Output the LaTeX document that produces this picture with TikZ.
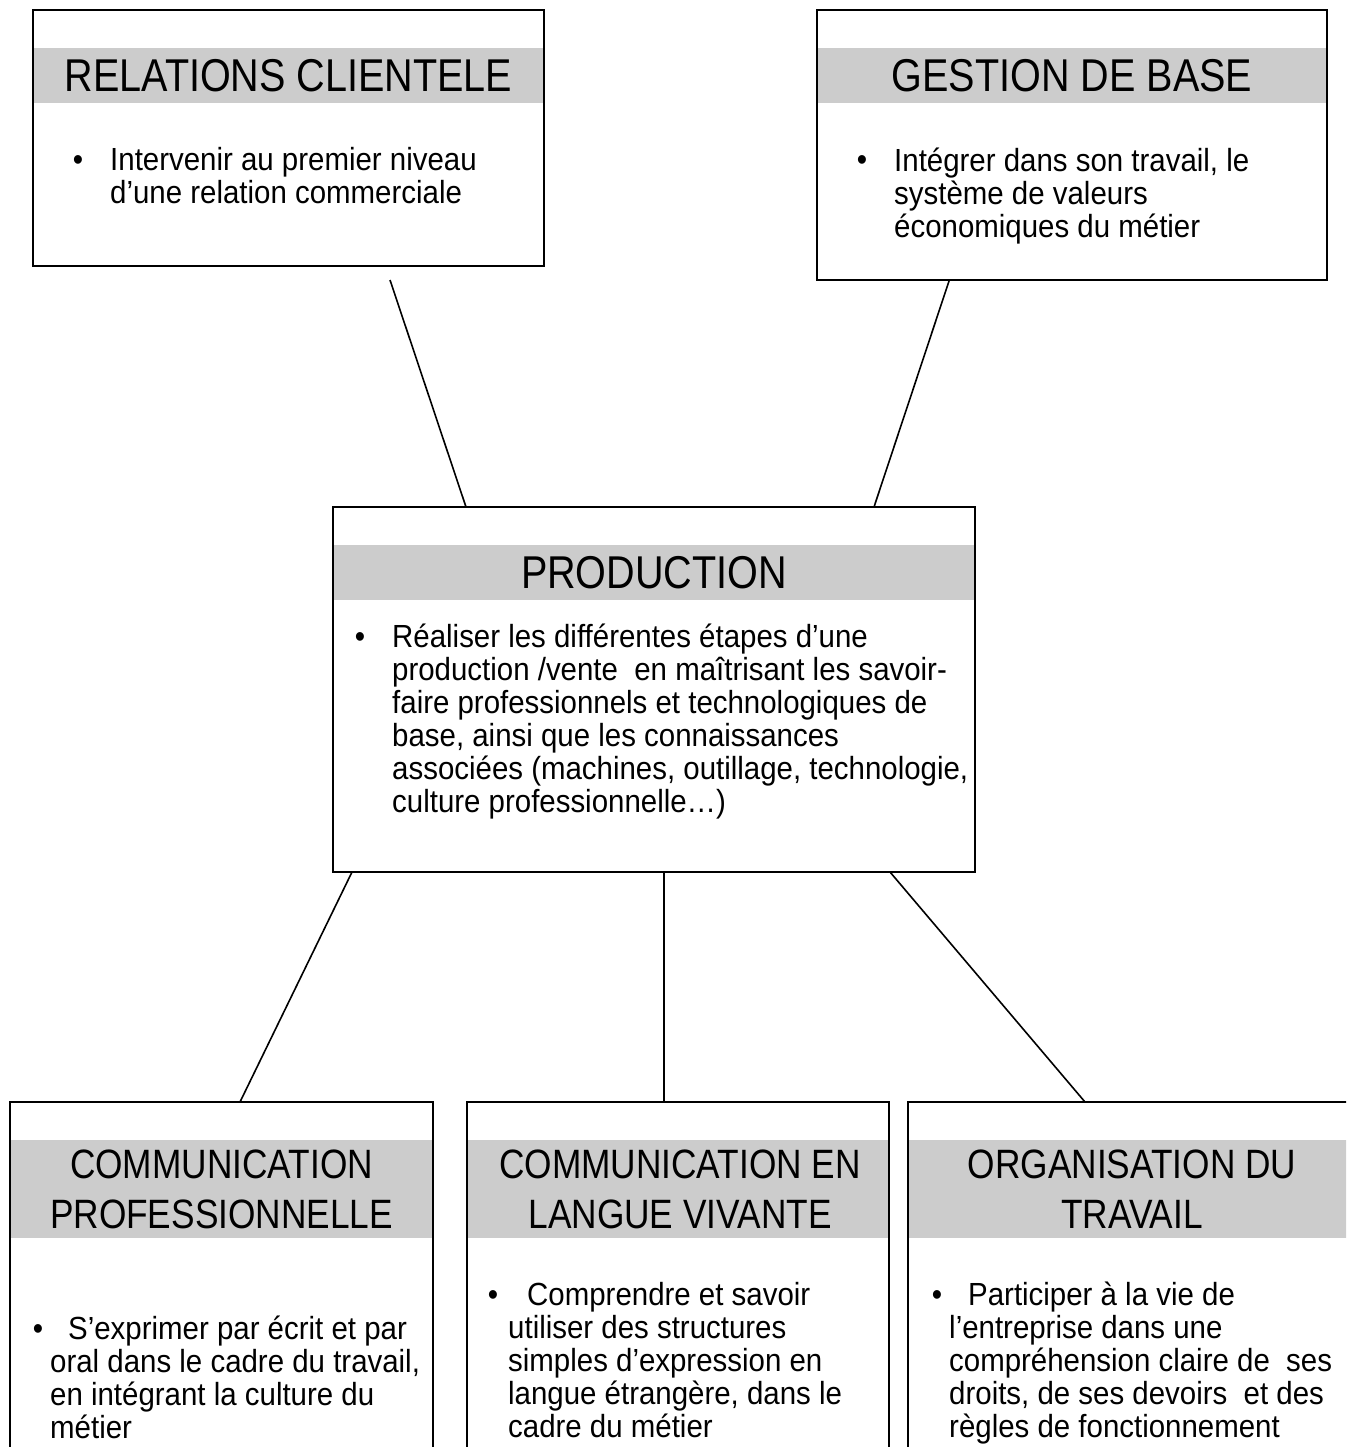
\documentclass[tikz,border=0pt]{standalone}
\usepackage{fontspec}
\setmainfont{Liberation Sans}
\newfontfamily\titlefont[FakeStretch=0.86]{Liberation Sans}
\newfontfamily\bodyfont[FakeStretch=0.92]{Liberation Sans}
\definecolor{bandgrey}{RGB}{204,204,204}
\tikzset{
  box/.style={draw, line width=2.4pt, inner sep=0pt, outer sep=0pt},
  hdr/.style={fill=bandgrey, inner sep=0pt, outer sep=0pt, align=center,
    font=\titlefont\fontsize{46}{50}\selectfont},
  hdrb/.style={hdr, font=\titlefont\fontsize{41}{50}\selectfont},
  body/.style={anchor=base west, align=left, inner sep=0pt,
    font=\bodyfont\fontsize{32}{33}\selectfont},
  bul/.style={anchor=base, inner sep=0pt, font=\bodyfont\fontsize{32}{33}\selectfont},
  link/.style={line width=1.6pt}
}
\begin{document}
\begin{tikzpicture}[x=1pt,y=-1pt]
\useasboundingbox (0,0) rectangle (1346,1447);
\clip (0,0) rectangle (1346,1447);
% header bands (drawn first)
\node[hdr, minimum width=508.6, minimum height=55] (rch) at (288.5,75.5) {RELATIONS CLIENTELE};
\node[hdr, minimum width=507.6, minimum height=55] (gbh) at (1072,75.5) {GESTION DE BASE};
\node[hdr, minimum width=639.6, minimum height=55] (prodh) at (654,572.5) {PRODUCTION};
\node[hdrb, minimum width=420.6, minimum height=98] (cph) at (221.5,1189) {COMMUNICATION\\PROFESSIONNELLE};
\node[hdrb, minimum width=419.6, minimum height=98] (clvh) at (678,1189) {\hspace*{4pt}COMMUNICATION EN\\\hspace*{4pt}LANGUE VIVANTE};
\node[hdrb, minimum width=445.6, minimum height=98] (oth) at (1132,1189) {ORGANISATION DU\\TRAVAIL};
% boxes
\node[box, minimum width=511, minimum height=256] (rc) at (288.5,138) {};
\node[box, minimum width=510, minimum height=270] (gb) at (1072,145) {};
\node[box, minimum width=642, minimum height=365] (prod) at (654,689.5) {};
\node[box, minimum width=423, minimum height=398] (cp) at (221.5,1301) {};
\node[box, minimum width=422, minimum height=398] (clv) at (678,1301) {};
\node[box, minimum width=448, minimum height=398] (ot) at (1132,1301) {};
% bullets (first line) and texts (anchored at last line baseline)
\node[bul] (rcb) at (78,171) {\textbullet};
\node[body] (rct) at (110,204) {Intervenir au premier niveau\\d’une relation commerciale};
\node[bul] (gbb) at (862,171) {\textbullet};
\node[body] (gbt) at (894,237) {Intégrer dans son travail, le\\système de valeurs\\économiques du métier};
\node[bul] (prodb) at (360,647) {\textbullet};
\node[body] (prodt) at (392,812) {Réaliser les différentes étapes d’une\\production /vente\ \ en maîtrisant les savoir-\\faire professionnels et technologiques de\\base, ainsi que les connaissances\\associées (machines, outillage, technologie,\\culture professionnelle…)};
\node[bul] (cpb) at (38,1339) {\textbullet};
\node[body] (cpt) at (50,1438) {\hspace*{18pt}S’exprimer par écrit et par\\oral dans le cadre du travail,\\en intégrant la culture du\\métier};
\node[bul] (clvb) at (493,1305) {\textbullet};
\node[body] (clvt) at (508,1437) {\hspace*{19pt}Comprendre et savoir\\utiliser des structures\\simples d’expression en\\langue étrangère, dans le\\cadre du métier};
\node[bul] (otb) at (937,1305) {\textbullet};
\node[body] (ott) at (949,1437) {\hspace*{19pt}Participer à la vie de\\l’entreprise dans une\\compréhension claire de\ \ ses\\droits, de ses devoirs\ \ et des\\règles de fonctionnement};
% connectors
\draw[link] ([xshift=357pt,yshift=-14pt]rc.south west) -- ([xshift=133pt]prod.north west);
\draw[link] ([xshift=132pt,yshift=-1pt]gb.south west) -- ([xshift=541pt]prod.north west);
\draw[link] ([xshift=19pt]prod.south west) -- ([xshift=230pt]cp.north west);
\draw[link] ([xshift=331pt]prod.south west) -- ([xshift=197pt]clv.north west);
\draw[link] ([xshift=557pt]prod.south west) -- ([xshift=177pt]ot.north west);
\end{tikzpicture}
\end{document}
